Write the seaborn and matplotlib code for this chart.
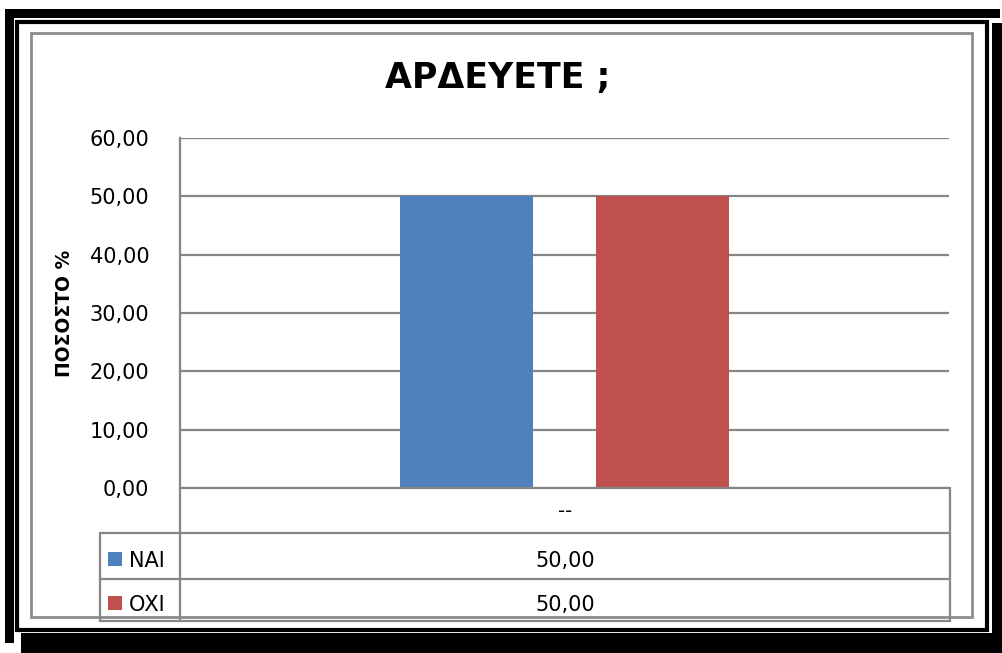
import matplotlib
matplotlib.use("Agg")
import matplotlib.pyplot as plt
from matplotlib.patches import Rectangle
from matplotlib.lines import Line2D
import seaborn as sns
import pandas as pd

# Data
categories = ["--"]
series = ["ΝΑΙ", "ΟΧΙ"]
values = [50.00, 50.00]
colors = ["#4F81BD", "#C0504D"]
yticks = [0, 10, 20, 30, 40, 50, 60]
title = "ΑΡΔΕΥΕΤΕ ;"
ylabel = "ΠΟΣΟΣΤΟ %"

df = pd.DataFrame({"cat": categories * len(series), "series": series, "value": values})

sns.set_theme(style="white")
plt.rcParams["font.family"] = ["DejaVu Sans"]
plt.rcParams["text.color"] = "black"
plt.rcParams["axes.labelcolor"] = "black"

W, H = 1003, 653
fig = plt.figure(figsize=(W / 100, H / 100), dpi=100)
fig.patch.set_facecolor("white")


def fx(x):
    return x / W


def fy(y):
    return 1 - y / H


GRID = "#868686"
FS = 15

# Plot area
L, R, T, B = 180, 949, 138, 488
ax = fig.add_axes([fx(L), fy(B), fx(R) - fx(L), fy(T) - fy(B)])
sns.barplot(data=df, x="cat", y="value", hue="series", palette=colors,
            hue_order=series, width=0.512, gap=0.324, saturation=1,
            linewidth=0, edgecolor="none", legend=False, ax=ax, zorder=3)
ax.set_xlim(-0.5, 0.5)
ax.set_ylim(0, 60)
ax.set_yticks(yticks)
ax.set_yticklabels([f"{t:.2f}".replace(".", ",") for t in yticks], fontsize=FS, color="black")
ax.tick_params(axis="y", length=0, pad=22, colors="black")
ax.set_xticks([])
ax.set_xlabel("")
ax.set_ylabel("")
ax.grid(axis="y", color=GRID, linewidth=1.6, zorder=0)
for s in ["top", "right", "bottom"]:
    ax.spines[s].set_visible(False)
ax.spines["left"].set_color(GRID)
ax.spines["left"].set_linewidth(1.6)


# Data table under the axis
def hline(y, x0, x1, lw=1.6, color=GRID):
    fig.add_artist(Line2D([fx(x0), fx(x1)], [fy(y), fy(y)], color=color, lw=lw))


def vline(x, y0, y1, lw=1.6, color=GRID):
    fig.add_artist(Line2D([fx(x), fx(x)], [fy(y0), fy(y1)], color=color, lw=lw))


rows_y = [488, 533, 579, 621]
hline(488, L, 950)
for y in rows_y[1:]:
    hline(y, 100, 950)
vline(L, B, 621)
vline(100, 533, 621)
vline(950, 488, 621)

cx = (L + 950) / 2
fig.text(fx(cx), fy(511), categories[0], ha="center", va="center", fontsize=FS - 1)
baselines = [567, 611]
for name, v, c, yb in zip(series, values, colors, baselines):
    fig.text(fx(cx), fy(yb), f"{v:.2f}".replace(".", ","), ha="center", va="baseline", fontsize=FS)
    fig.add_artist(Rectangle((fx(108), fy(yb - 1)), fx(14), 14 / H, color=c, lw=0))
    fig.text(fx(129), fy(yb), name, ha="left", va="baseline", fontsize=FS)

# Title and axis label
fig.text(fx(498), fy(88), title, ha="center", va="baseline", fontsize=25, fontweight="bold")
fig.text(fx(65), fy(313), ylabel, ha="center", va="center", rotation=90,
         fontsize=13.5, fontweight="bold")

# Chart border
fig.add_artist(Rectangle((fx(31), fy(617)), fx(972) - fx(31), fy(33) - fy(617),
                         fill=False, edgecolor="#8c8c8c", lw=2))

# Decorative double frame
fig.add_artist(Rectangle((fx(17.5), fy(630)), fx(987) - fx(17.5), fy(21.5) - fy(630),
                         fill=False, edgecolor="black", lw=3))
for (x0, y0, x1, y1) in [(5, 9, 1000, 18), (5, 9, 14, 643), (992, 23, 1003, 653), (21, 633, 1003, 653)]:
    fig.add_artist(Rectangle((fx(x0), fy(y1)), fx(x1) - fx(x0), fy(y0) - fy(y1),
                             facecolor="black", edgecolor="none"))

fig.savefig("out.png", dpi=100, facecolor="white")
